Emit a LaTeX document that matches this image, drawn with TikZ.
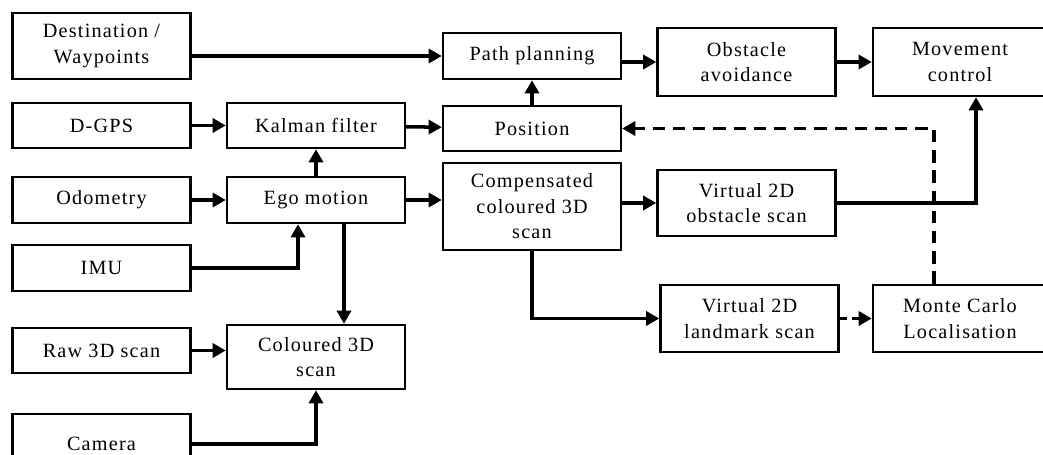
\documentclass[tikz,border=0pt]{standalone}
\usepackage{fontspec}
\setmainfont{Liberation Serif}[LetterSpace=6]
\usetikzlibrary{arrows.meta}

\begin{document}
\begin{tikzpicture}[x=0.02cm, y=-0.02cm,
    blk/.style={draw, line width=1.4pt, align=center, inner sep=0pt,
        minimum width=3.56cm, font=\fontsize{11.5}{14.5}\selectfont},
    arr/.style={line width=2pt, -{Triangle[length=7.5pt, width=8pt]}},
    darr/.style={arr, dash pattern=on 7pt off 4.5pt}]

    \useasboundingbox (0,0) rectangle (1043,455);

    % Inputs
    \node[blk, minimum height=1.32cm] (dest) at (101.5,46) {Destination /\\Waypoints};
    \node[blk, minimum height=0.9cm] (dgps) at (101.5,125.5) {D-GPS};
    \node[blk, minimum height=0.92cm] (odo) at (101.5,200) {Odometry};
    \node[blk, minimum height=0.92cm] (imu) at (101.5,268) {IMU};
    \node[blk, minimum height=0.9cm] (raw) at (101.5,350.5) {Raw 3D scan};
    \node[blk, minimum height=1.2cm] (cam) at (101.5,444) {Camera};

    % Second column
    \node[blk, minimum height=0.9cm] (kalman) at (316,125.5) {Kalman filter};
    \node[blk, minimum height=0.92cm] (ego) at (316,200) {Ego motion};
    \node[blk, minimum height=1.28cm] (col) at (316,357) {Coloured 3D\\scan};

    % Third column
    \node[blk, minimum height=0.92cm] (pp) at (532,56) {Path planning};
    \node[blk, minimum height=0.9cm] (pos) at (532,128.5) {Position};
    \node[blk, minimum height=1.74cm] (comp) at (532,206.5) {Compensated\\coloured 3D\\scan};

    % Fourth column
    \node[blk, minimum height=1.36cm] (obst) at (746.5,62) {Obstacle\\avoidance};
    \node[blk, minimum height=1.32cm] (vobs) at (746.5,203) {Virtual 2D\\obstacle scan};
    \node[blk, minimum height=1.34cm] (vland) at (749.5,318.5) {Virtual 2D\\landmark scan};

    % Right column (cut by the page edge)
    \node[blk, minimum width=3.48cm, minimum height=1.36cm] (move) at (960,62) {Movement\\control};
    \node[blk, minimum width=3.48cm, minimum height=1.34cm] (mcl) at (960,318.5) {Monte Carlo\\Localisation};

    % Connections
    \draw[arr] (pp.west -| dest.east) -- (pp.west);
    \draw[arr] (dgps) -- (kalman);
    \draw[arr] (odo) -- (ego);
    \draw[arr] (kalman) -- (pos);
    \draw[arr] (ego) -- (kalman);
    \draw[arr] (ego.east) -- (ego.east -| comp.west);
    \draw[arr] (imu.east) -| ([xshift=-0.36cm]ego.south);
    \draw[arr] ([xshift=0.56cm]ego.south) -- ([xshift=0.56cm]ego.south |- col.north);
    \draw[arr] (raw.east) -- (raw.east -| col.west);
    \draw[arr] (cam.east) -| (col.south);
    \draw[arr] (pos) -- (pp);
    \draw[arr] (obst.west -| pp.east) -- (obst.west);
    \draw[arr] (obst) -- (move);
    \draw[arr] (vobs.west -| comp.east) -- (vobs.west);
    \draw[arr] (vobs.east) -| ([xshift=0.32cm]move.south);
    \draw[arr] (comp.south) |- (vland.west);
    \draw[darr, dash pattern=on 4pt off 3pt] (vland) -- (mcl);
    \draw[darr] ([xshift=-0.52cm]mcl.north) |- (pos.east);

\end{tikzpicture}
\end{document}
